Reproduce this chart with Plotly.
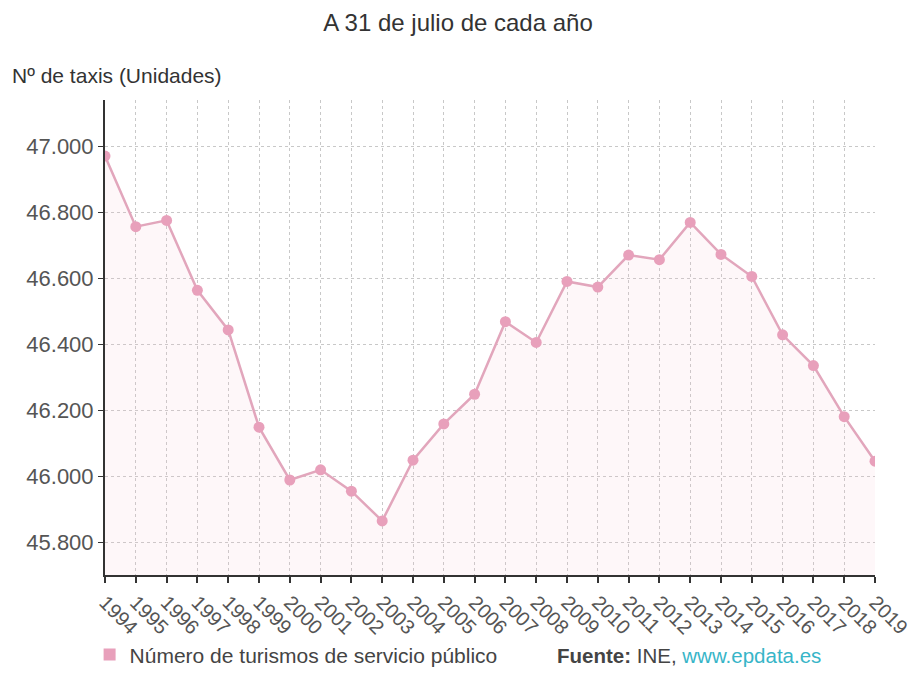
import plotly.graph_objects as go

years = list(range(1994, 2020))
taxis = [46970, 46756, 46775, 46563, 46443, 46148, 45988, 46019, 45954, 45864,
         46048, 46158, 46248, 46468, 46405, 46590, 46573, 46670, 46656, 46769,
         46672, 46605, 46428, 46335, 46180, 46045]
y_ticks = [45800, 46000, 46200, 46400, 46600, 46800, 47000]
series_name = "Número de turismos de servicio público"

PINK = "#e8a0bb"
LINE = "#e2a6bc"
FONT = "Liberation Sans, Arial, sans-serif"

fig = go.Figure()
fig.add_trace(go.Scatter(
    x=years, y=taxis, mode="lines+markers",
    line=dict(color=LINE, width=2.5),
    marker=dict(color=PINK, size=11),
    fill="tozeroy", fillcolor="rgba(245,190,210,0.13)",
    showlegend=False, hoverinfo="x+y",
))
# legend entry shown as a square swatch
fig.add_trace(go.Scatter(
    x=[None], y=[None], mode="markers", name=series_name,
    marker=dict(color=PINK, size=12, symbol="square"),
))

fig.update_layout(
    width=916, height=695,
    margin=dict(l=105, r=41, t=100, b=120),
    paper_bgcolor="white", plot_bgcolor="white",
    font=dict(family=FONT, color="#555", size=20),
    separators=",.",
    title=dict(text="A 31 de julio de cada año", x=0.5, xanchor="center",
               y=0.968, yanchor="middle", font=dict(size=24, color="#333")),
    xaxis=dict(
        range=[1994, 2019], tickvals=years, ticktext=[str(y) for y in years],
        tickangle=45, tickfont=dict(size=20, color="#555"),
        showgrid=True, gridcolor="#c8c8c8", griddash="dot", gridwidth=1,
        showline=True, linecolor="#333", linewidth=2,
        ticks="outside", ticklen=6, tickcolor="#333", tickwidth=2,
        zeroline=False, fixedrange=True, automargin=False,
    ),
    yaxis=dict(
        range=[45700, 47140], tickvals=y_ticks, tickformat=",d",
        tickfont=dict(size=22, color="#555"),
        showgrid=True, gridcolor="#c8c8c8", griddash="dot", gridwidth=1,
        showline=True, linecolor="#333", linewidth=2,
        ticks="outside", ticklen=5, tickcolor="#333", tickwidth=1,
        zeroline=False, fixedrange=True, automargin=False,
    ),
    legend=dict(orientation="h", x=-0.02, xanchor="left", y=-0.168,
                yanchor="middle", font=dict(size=21, color="#444"),
                itemwidth=30, bgcolor="rgba(0,0,0,0)"),
    annotations=[
        dict(text="Nº de taxis (Unidades)", xref="paper", yref="paper",
             x=-95/770, y=1 + 25/475, xanchor="left", yanchor="middle",
             showarrow=False, font=dict(size=21, color="#333")),
        dict(text="<b>Fuente:</b> INE, <span style='color:#37b5c8'>www.epdata.es</span>",
             xref="paper", yref="paper", x=(555 - 105) / 770, y=-80/475,
             xanchor="left", yanchor="middle", showarrow=False,
             font=dict(size=20.5, color="#444")),
    ],
)

fig.write_html("out.html")
